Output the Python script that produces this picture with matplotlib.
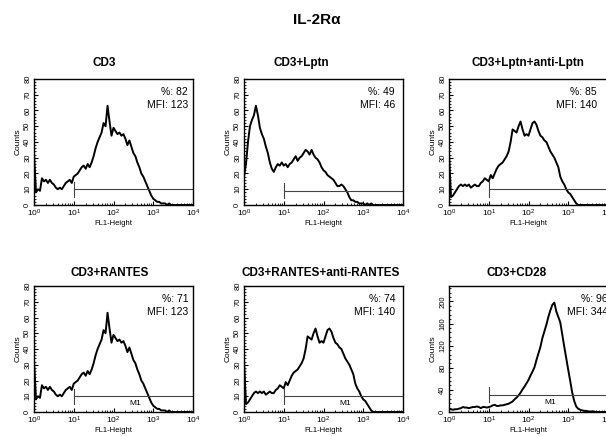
import numpy as np
import matplotlib
matplotlib.use('Agg')
import matplotlib.pyplot as plt
from matplotlib.ticker import LogLocator, MultipleLocator, NullFormatter

plt.rcParams['font.family'] = ['Liberation Sans', 'DejaVu Sans']

# Panel info (reading order: top row left->right, bottom row left->right)
panel_titles = ['CD3', 'CD3+Lptn', 'CD3+Lptn+anti-Lptn',
                'CD3+RANTES', 'CD3+RANTES+anti-RANTES', 'CD3+CD28']
pct_positive = [82, 49, 85, 71, 74, 96]
mfi_values = [123, 46, 140, 123, 140, 344]
gate_start = [10, 10, 10, 10, 10, 10]
gate_level = [10, 9, 10, 10, 10, 31]
show_m1 = [False, False, False, True, True, True]
y_max = [80, 80, 80, 80, 80, 228]

# histogram channels, in decades of FL1 (0.05 decade per channel)
channel = np.linspace(0, 4, 81)

counts_cd3 = [33, 8, 10, 9, 17, 15, 16, 14, 16, 14,
              13, 11, 10, 11, 10, 12, 14, 15, 16, 14,
              18, 19, 20, 22, 24, 25, 23, 26, 24, 27,
              31, 36, 40, 43, 46, 52, 50, 63, 53, 44,
              49, 47, 45, 46, 44, 45, 42, 38, 41, 37,
              33, 31, 27, 24, 20, 18, 15, 12, 9, 6,
              4, 3, 2, 2, 1, 1, 1, 0, 1, 0,
              0, 0, 0, 0, 0, 0, 0, 0, 0, 0, 0]

counts_lptn = [18, 26, 40, 50, 54, 57, 63, 57, 49, 45,
               42, 37, 33, 27, 23, 21, 24, 26, 25, 27,
               25, 26, 24, 26, 27, 29, 31, 28, 30, 31,
               33, 35, 34, 32, 35, 32, 30, 29, 27, 24,
               22, 21, 19, 18, 17, 16, 14, 12, 12, 13,
               12, 10, 8, 5, 3, 3, 2, 2, 1, 1,
               1, 0, 1, 0, 1, 0, 0, 0, 0, 0,
               0, 0, 0, 0, 0, 0, 0, 0, 0, 0, 0]

counts_anti_lptn = [33, 5, 6, 8, 10, 12, 13, 12, 13, 12,
                    13, 11, 12, 13, 12, 12, 14, 15, 17, 16,
                    15, 19, 17, 20, 23, 25, 26, 27, 29, 31,
                    34, 40, 48, 47, 46, 50, 53, 48, 44, 45,
                    44, 48, 52, 53, 51, 47, 44, 43, 41, 40,
                    37, 34, 32, 30, 27, 24, 18, 15, 13, 10,
                    8, 7, 5, 3, 1, 0, 0, 0, 0, 0,
                    0, 0, 0, 0, 0, 0, 0, 0, 0, 0, 0]

# the RANTES histograms are the same curves as shown for CD3 and anti-Lptn
counts_rantes = counts_cd3
counts_anti_rantes = counts_anti_lptn

counts_cd28 = [6, 5, 4, 5, 5, 6, 7, 9, 8, 8,
               7, 8, 9, 9, 10, 9, 7, 9, 9, 8,
               9, 10, 12, 13, 11, 11, 12, 12, 13, 14,
               15, 17, 19, 23, 26, 30, 35, 41, 46, 52,
               58, 66, 73, 81, 94, 106, 118, 134, 146, 158,
               172, 184, 194, 198, 182, 172, 162, 140, 118, 97,
               76, 56, 35, 20, 10, 6, 4, 3, 2, 2,
               1, 1, 1, 1, 0, 0, 0, 0, 0, 0, 0]

all_counts = [counts_cd3, counts_lptn, counts_anti_lptn,
              counts_rantes, counts_anti_rantes, counts_cd28]

W, H = 606, 436
fig = plt.figure(figsize=(W / 100, H / 100), dpi=100)

col_left = [34, 244, 449]
row_top = [79, 286]
ax_w, ax_h = 159, 126
title_px = [(104, 63), (301, 63), (528, 63), (110, 273), (321, 273), (517, 273)]
text_x = [0.97, 0.95, 0.93, 0.97, 0.95, 1.0]

fl1 = 10 ** channel

for i in range(6):
    r, c = divmod(i, 3)
    ax = fig.add_axes([col_left[c] / W, 1 - (row_top[r] + ax_h) / H, ax_w / W, ax_h / H])
    ax.plot(fl1, all_counts[i], color='black', lw=1.4)

    # marker gate
    tick_half = y_max[i] * 0.06
    ax.plot([gate_start[i], 1e4], [gate_level[i], gate_level[i]], color='#444444', lw=0.8)
    ax.plot([gate_start[i], gate_start[i]],
            [gate_level[i] - tick_half, gate_level[i] + tick_half], color='#444444', lw=0.8)
    if show_m1[i]:
        ax.text(10 ** 2.55, gate_level[i] - y_max[i] * 0.06, 'M1', fontsize=6,
                ha='center', va='center')

    ax.set_xscale('log')
    ax.set_xlim(1, 1e4)
    ax.set_ylim(0, y_max[i])
    ax.xaxis.set_major_locator(LogLocator(base=10, numticks=10))
    ax.xaxis.set_minor_locator(LogLocator(base=10, subs=np.arange(2, 10), numticks=20))
    ax.xaxis.set_minor_formatter(NullFormatter())
    if y_max[i] > 100:
        ax.yaxis.set_major_locator(MultipleLocator(40))
        ax.yaxis.set_minor_locator(MultipleLocator(8))
    else:
        ax.yaxis.set_major_locator(MultipleLocator(10))
        ax.yaxis.set_minor_locator(MultipleLocator(2))
    ax.tick_params(which='major', direction='in', length=3, width=0.8, labelsize=6, pad=2)
    ax.tick_params(which='minor', direction='in', length=1.5, width=0.6)
    ax.tick_params(axis='y', labelrotation=90, labelsize=5.5)
    for lab in ax.get_yticklabels():
        lab.set_va('center')
    for s in ax.spines.values():
        s.set_linewidth(1.0)

    ax.set_ylabel('Counts', fontsize=6, labelpad=2)
    ax.set_xlabel('FL1-Height', fontsize=5.5, labelpad=1)

    ax.text(text_x[i], 0.895, f'%: {pct_positive[i]}', transform=ax.transAxes,
            fontsize=7.5, ha='right', va='center')
    ax.text(text_x[i], 0.795, f'MFI: {mfi_values[i]}', transform=ax.transAxes,
            fontsize=7.5, ha='right', va='center')

    tx, ty = title_px[i]
    fig.text(tx / W, 1 - ty / H, panel_titles[i], fontsize=8.5, fontweight='bold',
             ha='center', va='center')

fig.text(317 / W, 1 - 20 / H, 'IL-2R\u03b1', fontsize=11, fontweight='bold',
         ha='center', va='center')

fig.savefig('out.png', dpi=100)
